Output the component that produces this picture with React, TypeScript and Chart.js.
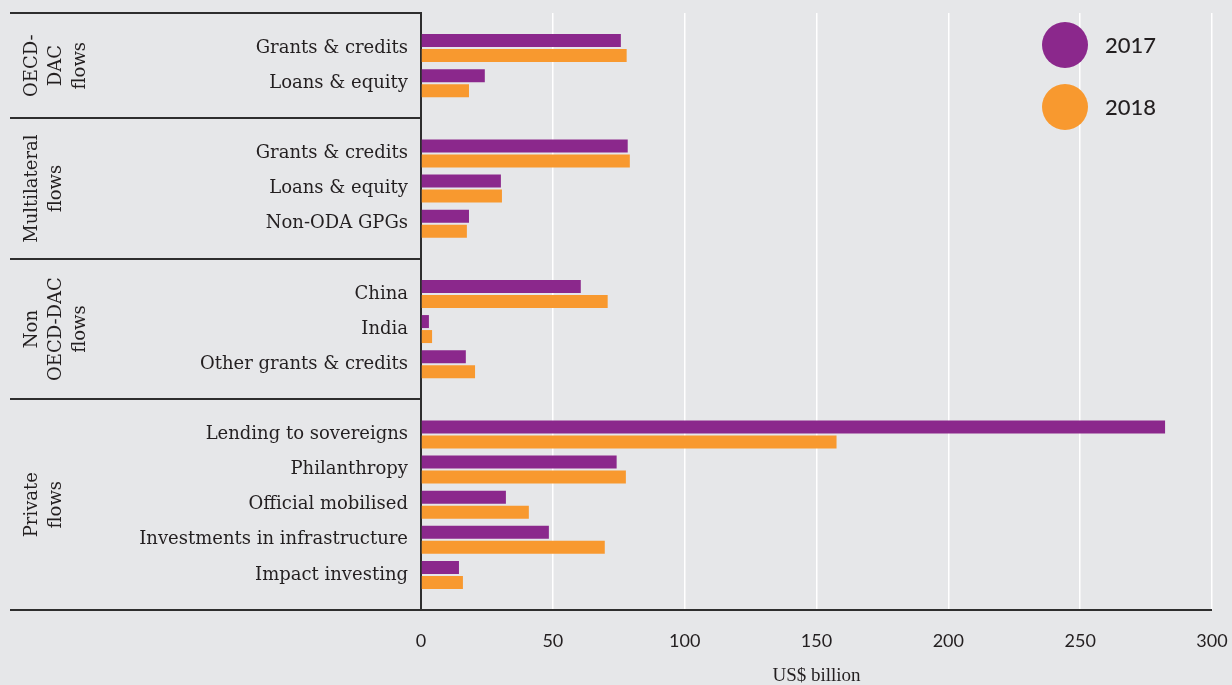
import React, { useEffect, useRef } from 'react';
import { Chart, registerables } from 'chart.js';

Chart.register(...registerables);

// Category slots (blank strings are spacer slots between groups)
const categories = [
  '',
  'Grants & credits',
  'Loans & equity',
  '',
  'Grants & credits',
  'Loans & equity',
  'Non-ODA GPGs',
  '',
  'China',
  'India',
  'Other grants & credits',
  '',
  'Lending to sovereigns',
  'Philanthropy',
  'Official mobilised',
  'Investments in infrastructure',
  'Impact investing',
  '',
];

const values2017 = [null, 75.8, 24.2, null, 78.4, 30.3, 18.2, null, 60.6, 3.0, 17.0, null, 282.2, 74.2, 32.2, 48.5, 14.4, null];
const values2018 = [null, 78.0, 18.2, null, 79.2, 30.7, 17.4, null, 70.8, 4.2, 20.5, null, 157.6, 77.7, 40.9, 69.7, 15.9, null];

const seriesLabels = ['2017', '2018'];
const seriesColors = ['#8b288c', '#f8992f'];

const groupNames = [
  ['OECD-', 'DAC', 'flows'],
  ['Multilateral', 'flows'],
  ['Non', 'OECD-DAC', 'flows'],
  ['Private', 'flows'],
];
const groupBounds = [0, 3, 7, 11, 17];

const xMin = 0;
const xMax = 300;
const xStep = 50;
const xTitle = 'US$ billion';

const TEXT = '#231f20';
const LINE = '#2e2e2e';
const BG = '#e6e7e9';

const decorPlugin = {
  id: 'decor',
  afterDraw(chart: any) {
    const { ctx, chartArea, scales } = chart;
    const y = scales.y;
    ctx.save();
    // group separator lines
    ctx.strokeStyle = LINE;
    ctx.lineWidth = 2;
    groupBounds.forEach((b, i) => {
      const py = Math.round(y.getPixelForValue(b));
      const right = i === groupBounds.length - 1 ? chartArea.right : chartArea.left;
      ctx.beginPath();
      ctx.moveTo(10, py);
      ctx.lineTo(right, py);
      ctx.stroke();
    });
    // group labels (rotated)
    ctx.fillStyle = TEXT;
    ctx.font = '18px "DejaVu Serif"';
    ctx.textAlign = 'center';
    ctx.textBaseline = 'middle';
    groupNames.forEach((lines, i) => {
      const cy = (y.getPixelForValue(groupBounds[i]) + y.getPixelForValue(groupBounds[i + 1])) / 2;
      ctx.save();
      ctx.translate(0, cy);
      ctx.rotate(-Math.PI / 2);
      lines.forEach((line, j) => {
        ctx.fillText(line, 0, 32 + j * 24);
      });
      ctx.restore();
    });
    // legend
    const lx = chartArea.right - 147;
    chart.data.datasets.forEach((ds: any, i: number) => {
      const ly = chartArea.top + 32 + i * 62;
      ctx.fillStyle = ds.backgroundColor;
      ctx.beginPath();
      ctx.arc(lx, ly, 23, 0, Math.PI * 2);
      ctx.fill();
      ctx.fillStyle = TEXT;
      ctx.font = '500 22px Lato';
      ctx.textAlign = 'left';
      ctx.textBaseline = 'middle';
      ctx.fillText(ds.label, lx + 40, ly + 1);
    });
    ctx.restore();
  },
};

const zeroPadding = (s: any) => {
  s.paddingTop = 0;
  s.paddingBottom = 0;
  s.paddingLeft = 0;
  s.paddingRight = 0;
};

export default function App() {
  const canvasRef = useRef<HTMLCanvasElement | null>(null);

  useEffect(() => {
    document.body.style.margin = '0';
    document.body.style.background = BG;
    const canvas = canvasRef.current;
    if (!canvas) return;
    const chart = new Chart(canvas, {
      type: 'bar',
      data: {
        labels: categories,
        datasets: [
          {
            label: seriesLabels[0],
            data: values2017 as any,
            backgroundColor: seriesColors[0],
            categoryPercentage: 0.854,
            barPercentage: 0.867,
          },
          {
            label: seriesLabels[1],
            data: values2018 as any,
            backgroundColor: seriesColors[1],
            categoryPercentage: 0.854,
            barPercentage: 0.867,
          },
        ],
      },
      options: {
        indexAxis: 'y',
        responsive: false,
        animation: false,
        layout: { padding: { top: 13, right: 20, left: 0, bottom: 0 } },
        plugins: {
          legend: { display: false },
          tooltip: { enabled: false },
        },
        scales: {
          x: {
            type: 'linear',
            min: xMin,
            max: xMax,
            ticks: {
              stepSize: xStep,
              color: TEXT,
              font: { family: 'Lato', size: 18 },
              padding: 20,
            },
            grid: {
              drawTicks: false,
              lineWidth: 1.5,
              color: (c: any) => (c.tick && c.tick.value === 0 ? 'rgba(0,0,0,0)' : '#ffffff'),
            },
            border: { display: false },
            title: {
              display: true,
              text: xTitle,
              color: TEXT,
              font: { family: 'Liberation Serif', size: 19, lineHeight: 1 },
              padding: { top: 0, bottom: -1 },
            },
            afterFit: (s: any) => {
              s.height = 75;
              zeroPadding(s);
            },
          },
          y: {
            type: 'category',
            offset: false,
            ticks: {
              autoSkip: false,
              color: TEXT,
              font: { family: 'DejaVu Serif', size: 18 },
              padding: 13,
            },
            grid: { display: false, drawTicks: false },
            border: { display: true, color: LINE, width: 2 },
            afterFit: (s: any) => {
              s.width = 421;
              zeroPadding(s);
            },
          },
        },
      },
      plugins: [decorPlugin],
    });
    return () => chart.destroy();
  }, []);

  return (
    <div style={{ width: 1232, height: 685, background: BG }}>
      <canvas ref={canvasRef} width={1232} height={685} style={{ display: 'block' }} />
    </div>
  );
}
